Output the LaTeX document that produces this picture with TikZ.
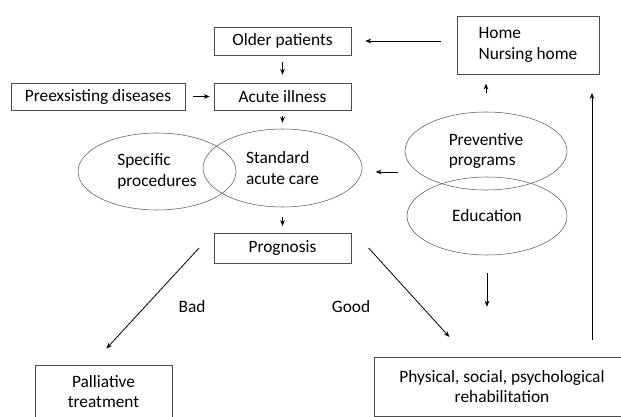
\documentclass[tikz,border=0pt]{standalone}
\usepackage{fontspec}
\setmainfont{Carlito}
\usetikzlibrary{arrows.meta,shapes.geometric}

\tikzset{
  box/.style={draw=black!70, inner sep=0pt, align=center, font=\fontsize{13}{15.5}\selectfont},
  oval/.style={ellipse, draw=black!65, inner sep=0pt, align=left, font=\fontsize{13}{15.5}\selectfont},
  flow/.style={-{Stealth[length=4.5pt,width=3.5pt]}, black, line width=0.6pt},
}

\begin{document}
\begin{tikzpicture}[x=0.75pt,y=-0.75pt]
        \useasboundingbox (0,0) rectangle (621,417);

        % Boxes
        \node[box, minimum width=102.75pt, minimum height=21pt] (older) at (282.5,41) {Older patients};
        \node[box, minimum width=106.5pt, minimum height=43.5pt, align=left] (home) at (528,45) {Home\\Nursing home};
        \node[box, minimum width=130.5pt, minimum height=20.25pt] (pre) at (98,96.5) {Preexsisting diseases};
        \node[box, minimum width=102.75pt, minimum height=20.25pt] (acute) at (282.5,96.5) {Acute illness};
        \node[box, minimum width=102.75pt, minimum height=22.5pt] (prog) at (282.5,248) {Prognosis};
        \node[box, minimum width=102.75pt, minimum height=39.75pt] (pall) at (103.5,391.5) {Palliative\\treatment};
        \node[box, minimum width=192pt, minimum height=44.25pt] (rehab) at (502,386.5) {Physical, social, psychological\\rehabilitation};

        % Ellipses
        \node[oval, minimum width=118.5pt, minimum height=57.75pt] (spec) at (157,171.5) {Specific\\procedures};
        \node[oval, minimum width=119.25pt, minimum height=58.5pt] (std) at (282.5,168) {Standard\\acute care};
        \node[oval, minimum width=121.5pt, minimum height=58.5pt] (prev) at (486,151) {Preventive\\programs};
        \node[oval, minimum width=120pt, minimum height=58.5pt] (edu) at (487,216) {Education};

        % Labels
        \node[font=\fontsize{13}{15.5}\selectfont] (bad) at (192,307) {Bad};
        \node[font=\fontsize{13}{15.5}\selectfont] (good) at (351,307) {Good};

        % Main chain
        \draw[flow, shorten <=12pt, shorten >=10.5pt] (home.west |- older.east) -- (older.east);
        \draw[flow, shorten <=5pt, shorten >=6pt] (older.south) -- (acute.north);
        \draw[flow, shorten <=6pt, shorten >=3pt] (pre.east) -- (acute.west);
        \draw[flow, shorten <=4pt, shorten >=4.5pt] (acute.south) -- (std.north);
        \draw[flow, shorten <=7.5pt, shorten >=5pt] (std.south) -- (prog.north);

        % Prevention side
        \draw[flow, shorten <=5pt, shorten >=10pt] ([yshift=-3pt]std.east -| prev.west) -- ([yshift=-3pt]std.east);
        \draw[flow, shorten <=14pt, shorten >=7pt] (prev.north) -- (prev.north |- home.south);
        \draw[flow, shorten <=13pt, shorten >=37.5pt] (edu.south) -- (edu.south |- rehab.north);

        % Outcomes
        \draw[flow, shorten >=16.5pt] ([xshift=-11pt]prog.west) -- ([xshift=-9pt]pall.north);
        \draw[flow, shorten >=20pt] ([xshift=13pt]prog.east) -- ([xshift=-26pt]rehab.north);

        % Back home
        \coordinate (ret) at (592,357);
        \draw[flow, shorten <=13pt, shorten >=14pt] (ret) -- (ret |- home.south);
    \end{tikzpicture}
\end{document}
